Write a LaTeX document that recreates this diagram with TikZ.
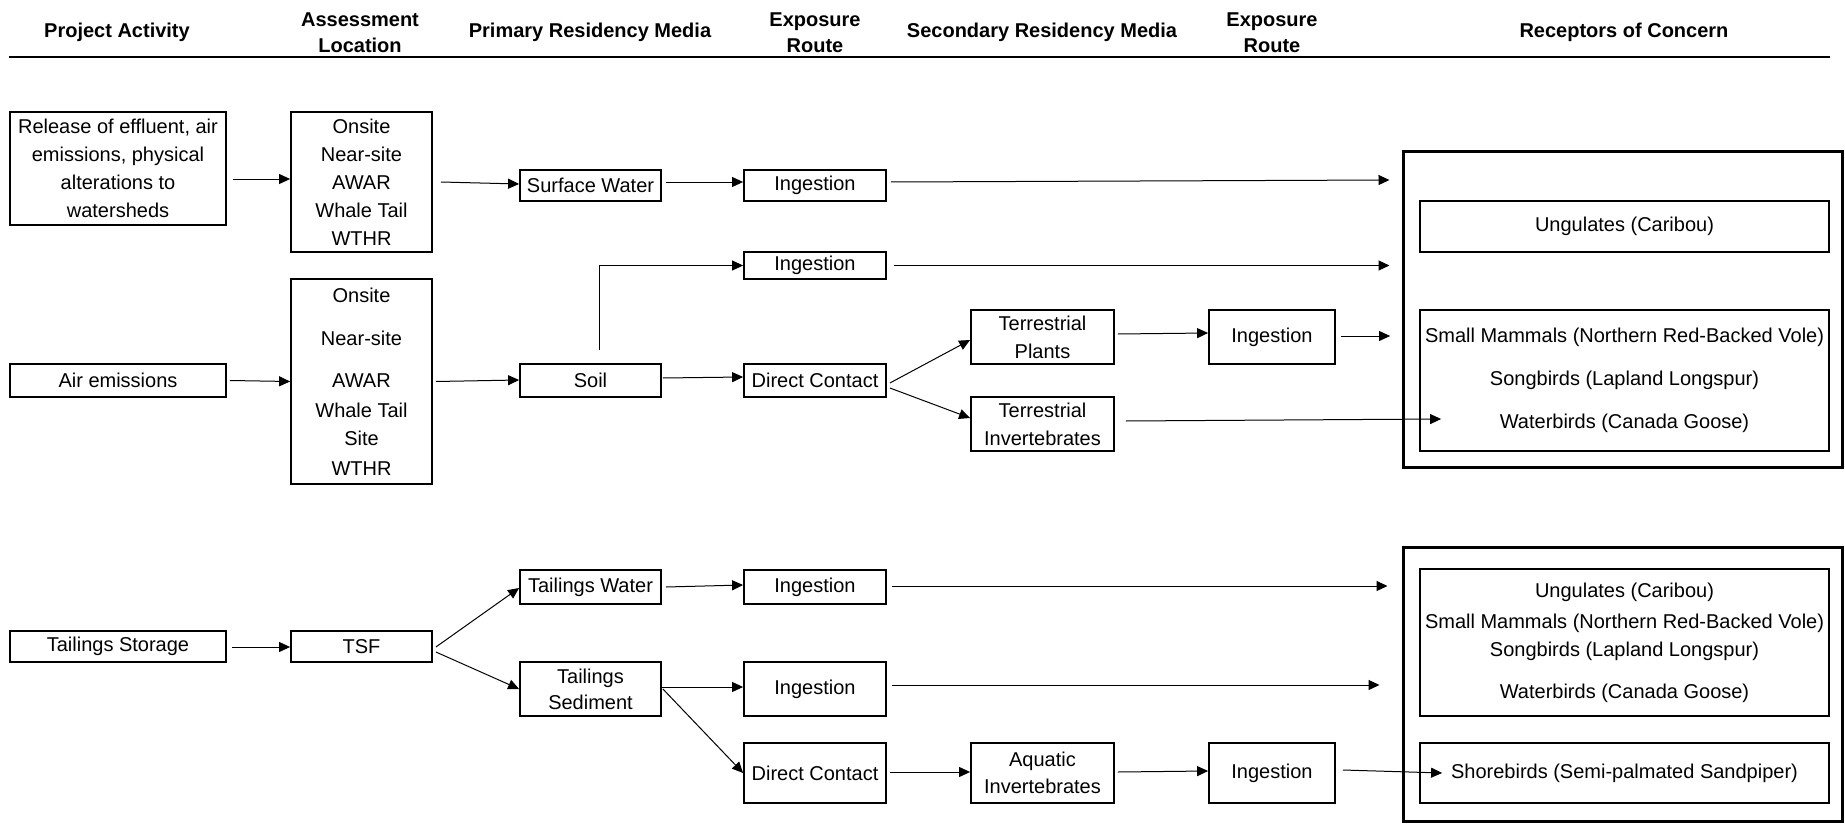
\documentclass[tikz,border=0pt]{standalone}
\usepackage{fontspec}
\setmainfont{Liberation Sans}
\usetikzlibrary{arrows.meta}
\newcommand\bodyfont{\fontsize{20}{28}\selectfont}
\newcommand\headfont{\fontsize{20}{26}\selectfont\bfseries}
\begin{document}
\begin{tikzpicture}[x=1pt,y=-1pt,
  box/.style={draw, line width=1.8pt, inner sep=0pt, align=center, font=\bodyfont},
  bigbox/.style={draw, line width=3pt, inner sep=0pt},
  head/.style={align=center, font=\headfont, inner sep=0pt},
  arr/.style={line width=1pt, -{Triangle[length=11pt,width=10pt]}}]
\useasboundingbox (0,0) rectangle (1845,824);
% header
\node[head] (hPA) at (117,32) {Project Activity};
\node[head] (hAL) at (360,33) {Assessment\\Location};
\node[head] (hPRM) at (590,32) {Primary Residency Media};
\node[head] (hER1) at (815,33) {Exposure\\Route};
\node[head] (hSRM) at (1042,32) {Secondary Residency Media};
\node[head] (hER2) at (1272,33) {Exposure\\Route};
\node[head] (hRC) at (1624,32) {Receptors of Concern};
\coordinate (rl) at (9,57);
\coordinate (rr) at (1830,57);
\draw[line width=2.5pt] (rl) -- (rr);
% column 1
\node[box, minimum width=216pt, minimum height=113pt] (rel) at (118,168.5) {Release of effluent, air\\emissions, physical\\alterations to\\watersheds};
\node[box, minimum width=216pt, minimum height=33pt] (air) at (118,380.5) {Air emissions};
\node[box, minimum width=216pt, minimum height=31pt] (tstore) at (118,646.5) {Tailings Storage};
% column 2
\node[box, minimum width=141pt, minimum height=140pt] (on1) at (361.5,182) {Onsite\\Near-site\\AWAR\\Whale Tail\\WTHR};
\node[box, minimum width=141pt, minimum height=205pt] (on2) at (361.5,381.5) {Onsite\\[15pt]Near-site\\[14pt]AWAR\\[2pt]Whale Tail\\Site\\[2pt]WTHR};
\node[box, minimum width=141pt, minimum height=31pt] (tsf) at (361.5,646.5) {TSF};
% column 3
\node[box, minimum width=141pt, minimum height=31pt] (sw) at (590.5,185.5) {Surface Water};
\node[box, minimum width=141pt, minimum height=33pt] (soil) at (590.5,380.5) {Soil};
\node[box, minimum width=141pt, minimum height=34pt] (tw) at (590.5,587) {Tailings Water};
\node[box, minimum width=141pt, minimum height=54pt] (ts) at (590.5,689) {Tailings\\[-2pt]Sediment};
% column 4
\node[box, minimum width=142pt, minimum height=31pt] (ing1) at (815,185.5) {Ingestion};
\node[box, minimum width=142pt, minimum height=27pt] (ing2) at (815,265.5) {Ingestion};
\node[box, minimum width=142pt, minimum height=33pt] (dc1) at (815,380.5) {Direct Contact};
\node[box, minimum width=142pt, minimum height=34pt] (ing3) at (815,587) {Ingestion};
\node[box, minimum width=142pt, minimum height=54pt] (ing4) at (815,689) {Ingestion};
\node[box, minimum width=142pt, minimum height=60pt] (dc2) at (815,773) {Direct Contact};
% column 5
\node[box, minimum width=143pt, minimum height=54pt] (tp) at (1042.5,337) {Terrestrial\\Plants};
\node[box, minimum width=143pt, minimum height=54pt] (ti) at (1042.5,424) {Terrestrial\\Invertebrates};
\node[box, minimum width=143pt, minimum height=60pt] (ai) at (1042.5,773) {Aquatic\\[-1pt]Invertebrates};
% column 6
\node[box, minimum width=126pt, minimum height=54pt] (ing5) at (1272,337) {Ingestion};
\node[box, minimum width=126pt, minimum height=60pt] (ing6) at (1272,773) {Ingestion};
% receptors
\node[bigbox, minimum width=439pt, minimum height=315pt] (big1) at (1622.5,309.5) {};
\node[bigbox, minimum width=439pt, minimum height=274pt] (big2) at (1622.5,684) {};
\node[box, minimum width=409pt, minimum height=51pt] (ung) at (1624.5,226.5) {Ungulates (Caribou)};
\node[box, minimum width=409pt, minimum height=141pt] (smb) at (1624.5,380.5) {Small Mammals (Northern Red-Backed Vole)\\[15pt]Songbirds (Lapland Longspur)\\[15pt]Waterbirds (Canada Goose)};
\node[box, minimum width=409pt, minimum height=147pt] (rec2) at (1624.5,642.5) {Ungulates (Caribou)\\[3pt]Small Mammals (Northern Red-Backed Vole)\\Songbirds (Lapland Longspur)\\[14pt]Waterbirds (Canada Goose)};
\node[box, minimum width=409pt, minimum height=60pt] (shore) at (1624.5,773) {Shorebirds (Semi-palmated Sandpiper)};
% arrows
\draw[arr] ([shift={(6,10.5)}]rel.east) -- ([shift={(0,-3)}]on1.west);
\draw[arr] ([shift={(8,0)}]on1.east) -- ([shift={(0,-1.5)}]sw.west);
\draw[arr] ([shift={(4,-3.5)}]sw.east) -- ([shift={(0,-3.5)}]ing1.west);
\draw[arr] ([shift={(4,-3.5)}]ing1.east) -- ([shift={(-12,-129.5)}]big1.west);
\draw[arr] ([shift={(8.5,-13)}]soil.north) |- (ing2.west);
\draw[arr] ([shift={(7,0)}]ing2.east) -- ([shift={(-12,-44)}]big1.west);
\draw[arr] ([shift={(3,0)}]air.east) -- (on2.west);
\draw[arr] ([shift={(3,0)}]on2.east) -- ([shift={(0,-0.5)}]soil.west);
\draw[arr] ([shift={(1,-2.5)}]soil.east) -- ([shift={(0,-3.5)}]dc1.west);
\draw[arr] ([shift={(3,2.5)}]dc1.east) -- ([shift={(0,3)}]tp.west);
\draw[arr] ([shift={(3,7.5)}]dc1.east) -- ([shift={(0,-6)}]ti.west);
\draw[arr] ([shift={(3,-3)}]tp.east) -- ([shift={(0,-4)}]ing5.west);
\draw[arr] ([shift={(5,-1)}]ing5.east) -- ([shift={(-29,-44.5)}]smb.west);
\draw[arr] ([shift={(11,-3)}]ti.east) -- ([shift={(22,38.5)}]smb.west);
\draw[arr] ([shift={(5,0.5)}]tstore.east) -- ([shift={(0,0.5)}]tsf.west);
\draw[arr] ([shift={(3,0.5)}]tsf.east) -- ([shift={(0,1)}]tw.west);
\draw[arr] ([shift={(3,5.5)}]tsf.east) -- (ts.west);
\draw[arr] ([shift={(4,0)}]tw.east) -- ([shift={(0,-2)}]ing3.west);
\draw[arr] ([shift={(5,-1)}]ing3.east) -- ([shift={(-14,-98)}]big2.west);
\draw[arr] ([shift={(0,-2)}]ts.east) -- ([shift={(0,-2)}]ing4.west);
\draw[arr] ([shift={(5,-4)}]ing4.east) -- ([shift={(-22,1)}]big2.west);
\draw[arr] ([shift={(1,0)}]ts.east) -- (dc2.west);
\draw[arr] ([shift={(3,-1)}]dc2.east) -- ([shift={(0,-1)}]ai.west);
\draw[arr] ([shift={(3,-1)}]ai.east) -- ([shift={(0,-2)}]ing6.west);
\draw[arr] ([shift={(7,-3)}]ing6.east) -- ([shift={(23,0)}]shore.west);
\end{tikzpicture}
\end{document}
